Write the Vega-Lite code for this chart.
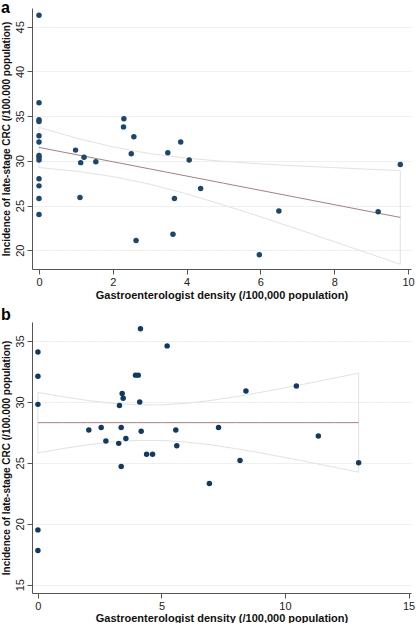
{
  "$schema": "https://vega.github.io/schema/vega-lite/v6.json",
  "padding": {"left": 0, "top": 0, "right": 4, "bottom": 0},
  "background": "white",
  "spacing": 7,
  "config": {
    "font": "Liberation Sans",
    "view": {"stroke": null},
    "axis": {
      "labelFont": "Liberation Sans",
      "titleFont": "Liberation Sans",
      "labelFontSize": 11,
      "labelColor": "#222222",
      "titleColor": "#111111",
      "titleFontWeight": "bold",
      "domainColor": "#555555",
      "tickColor": "#555555",
      "tickSize": 5,
      "gridColor": "#eef0f2",
      "gridWidth": 1
    },
    "title": {"font": "Liberation Sans", "fontSize": 16, "fontWeight": "bold", "color": "#000000", "anchor": "start", "frame": "bounds"}
  },
  "datasets": {
    "a_pts": [
      {"x": 0, "y": 46.3}, {"x": 0, "y": 36.5}, {"x": 0, "y": 34.6}, {"x": 0, "y": 34.4},
      {"x": 0, "y": 32.8}, {"x": 0, "y": 32.1}, {"x": 0, "y": 30.6}, {"x": 0, "y": 30.4},
      {"x": 0, "y": 30.1}, {"x": 0, "y": 28.0}, {"x": 0, "y": 27.2}, {"x": 0, "y": 25.8},
      {"x": 0, "y": 24.0},
      {"x": 0.99, "y": 31.2}, {"x": 1.13, "y": 29.8}, {"x": 1.22, "y": 30.4}, {"x": 1.11, "y": 25.9},
      {"x": 1.54, "y": 29.9}, {"x": 2.30, "y": 34.7}, {"x": 2.29, "y": 33.8}, {"x": 2.57, "y": 32.7},
      {"x": 2.50, "y": 30.8}, {"x": 2.63, "y": 21.1}, {"x": 3.49, "y": 30.9}, {"x": 3.67, "y": 25.8},
      {"x": 3.63, "y": 21.8}, {"x": 3.84, "y": 32.1}, {"x": 4.07, "y": 30.1}, {"x": 4.38, "y": 26.9},
      {"x": 6.50, "y": 24.4}, {"x": 5.97, "y": 19.5}, {"x": 9.19, "y": 24.3}, {"x": 9.79, "y": 29.6}
    ],
    "a_fit": [
      {"x": 0, "fit": 31.5, "lo": 29.25, "hi": 33.75},
      {"x": 1, "fit": 30.7, "lo": 28.84, "hi": 32.56},
      {"x": 2, "fit": 29.9, "lo": 28.24, "hi": 31.56},
      {"x": 3, "fit": 29.1, "lo": 27.39, "hi": 30.81},
      {"x": 4, "fit": 28.3, "lo": 26.3, "hi": 30.3},
      {"x": 5, "fit": 27.5, "lo": 25.06, "hi": 29.94},
      {"x": 6, "fit": 26.7, "lo": 23.74, "hi": 29.66},
      {"x": 7, "fit": 25.9, "lo": 22.36, "hi": 29.44},
      {"x": 8, "fit": 25.1, "lo": 20.96, "hi": 29.24},
      {"x": 9, "fit": 24.3, "lo": 19.55, "hi": 29.05},
      {"x": 9.79, "fit": 23.67, "lo": 18.42, "hi": 28.92}
    ],
    "b_pts": [
      {"x": 0, "y": 34.1}, {"x": 0, "y": 32.1}, {"x": 0, "y": 29.8}, {"x": 0, "y": 19.5}, {"x": 0, "y": 17.8},
      {"x": 2.06, "y": 27.7}, {"x": 2.56, "y": 27.9}, {"x": 2.75, "y": 26.8}, {"x": 3.30, "y": 29.7},
      {"x": 3.41, "y": 30.7}, {"x": 3.45, "y": 30.3}, {"x": 3.37, "y": 27.9}, {"x": 3.27, "y": 26.6},
      {"x": 3.37, "y": 24.7}, {"x": 3.56, "y": 27.0}, {"x": 3.95, "y": 32.2}, {"x": 4.06, "y": 32.2},
      {"x": 4.15, "y": 36.0}, {"x": 4.12, "y": 30.0}, {"x": 4.18, "y": 27.6}, {"x": 4.40, "y": 25.7},
      {"x": 4.64, "y": 25.7}, {"x": 5.23, "y": 34.6}, {"x": 5.58, "y": 27.7}, {"x": 5.62, "y": 26.4},
      {"x": 6.94, "y": 23.3}, {"x": 8.42, "y": 30.9}, {"x": 10.46, "y": 31.3}, {"x": 7.31, "y": 27.9},
      {"x": 8.18, "y": 25.2}, {"x": 11.35, "y": 27.2}, {"x": 12.98, "y": 25.0}
    ],
    "b_fit": [
      {"x": 0, "fit": 28.3, "lo": 25.82, "hi": 30.78},
      {"x": 1, "fit": 28.3, "lo": 26.17, "hi": 30.43},
      {"x": 2, "fit": 28.3, "lo": 26.48, "hi": 30.12},
      {"x": 3, "fit": 28.3, "lo": 26.71, "hi": 29.89},
      {"x": 4, "fit": 28.3, "lo": 26.84, "hi": 29.76},
      {"x": 5, "fit": 28.3, "lo": 26.84, "hi": 29.76},
      {"x": 6, "fit": 28.3, "lo": 26.71, "hi": 29.89},
      {"x": 7, "fit": 28.3, "lo": 26.48, "hi": 30.12},
      {"x": 8, "fit": 28.3, "lo": 26.17, "hi": 30.43},
      {"x": 9, "fit": 28.3, "lo": 25.82, "hi": 30.78},
      {"x": 10, "fit": 28.3, "lo": 25.44, "hi": 31.16},
      {"x": 11, "fit": 28.3, "lo": 25.05, "hi": 31.55},
      {"x": 12, "fit": 28.3, "lo": 24.64, "hi": 31.96},
      {"x": 12.98, "fit": 28.3, "lo": 24.23, "hi": 32.37}
    ]
  },
  "vconcat": [
    {
      "title": {"text": "a", "offset": -8},
      "width": 379,
      "height": 261,
      "layer": [
        {
          "data": {"name": "a_fit"},
          "mark": {"type": "area", "fill": "white", "fillOpacity": 0, "stroke": "#e2e2e2", "strokeWidth": 1},
          "encoding": {
            "x": {"field": "x", "type": "quantitative", "scale": {"domain": [-0.19, 10.08], "nice": false, "zero": false},
              "axis": {"title": "Gastroenterologist density (/100,000 population)", "titleFontSize": 11, "values": [0, 2, 4, 6, 8, 10], "grid": false, "labelPadding": 2, "titlePadding": 2}},
            "y": {"field": "hi", "type": "quantitative", "scale": {"domain": [17.9, 47.1], "nice": false, "zero": false},
              "axis": {"title": "Incidence of late-stage CRC (/100.000 population)", "titleFontSize": 10, "values": [20, 25, 30, 35, 40, 45], "grid": true, "labelAngle": -90, "labelAlign": "center", "labelBaseline": "bottom", "labelPadding": 2, "titlePadding": 3}},
            "y2": {"field": "lo"}
          }
        },
        {
          "data": {"name": "a_fit"},
          "mark": {"type": "line", "color": "#ad7c7f", "strokeWidth": 1},
          "encoding": {
            "x": {"field": "x", "type": "quantitative"},
            "y": {"field": "fit", "type": "quantitative"}
          }
        },
        {
          "data": {"name": "a_pts"},
          "mark": {"type": "circle", "color": "#1a476f", "opacity": 1, "size": 30},
          "encoding": {
            "x": {"field": "x", "type": "quantitative"},
            "y": {"field": "y", "type": "quantitative"}
          }
        }
      ]
    },
    {
      "title": {"text": "b", "offset": -1},
      "width": 379,
      "height": 271,
      "layer": [
        {
          "data": {"name": "b_fit"},
          "mark": {"type": "area", "fill": "white", "fillOpacity": 0, "stroke": "#e2e2e2", "strokeWidth": 1},
          "encoding": {
            "x": {"field": "x", "type": "quantitative", "scale": {"domain": [-0.24, 15.1], "nice": false, "zero": false},
              "axis": {"title": "Gastroenterologist density (/100,000 population)", "titleFontSize": 11, "values": [0, 5, 10, 15], "grid": false, "labelPadding": 2, "titlePadding": 1}},
            "y": {"field": "hi", "type": "quantitative", "scale": {"domain": [14.32, 36.56], "nice": false, "zero": false},
              "axis": {"title": "Incidence of late-stage CRC (/100.000 population)", "titleFontSize": 10, "values": [15, 20, 25, 30, 35], "grid": true, "labelAngle": -90, "labelAlign": "center", "labelBaseline": "bottom", "labelPadding": 2, "titlePadding": 3}},
            "y2": {"field": "lo"}
          }
        },
        {
          "data": {"name": "b_fit"},
          "mark": {"type": "line", "color": "#ad7c7f", "strokeWidth": 1},
          "encoding": {
            "x": {"field": "x", "type": "quantitative"},
            "y": {"field": "fit", "type": "quantitative"}
          }
        },
        {
          "data": {"name": "b_pts"},
          "mark": {"type": "circle", "color": "#0f3a63", "opacity": 1, "size": 30},
          "encoding": {
            "x": {"field": "x", "type": "quantitative"},
            "y": {"field": "y", "type": "quantitative"}
          }
        }
      ]
    }
  ]
}
